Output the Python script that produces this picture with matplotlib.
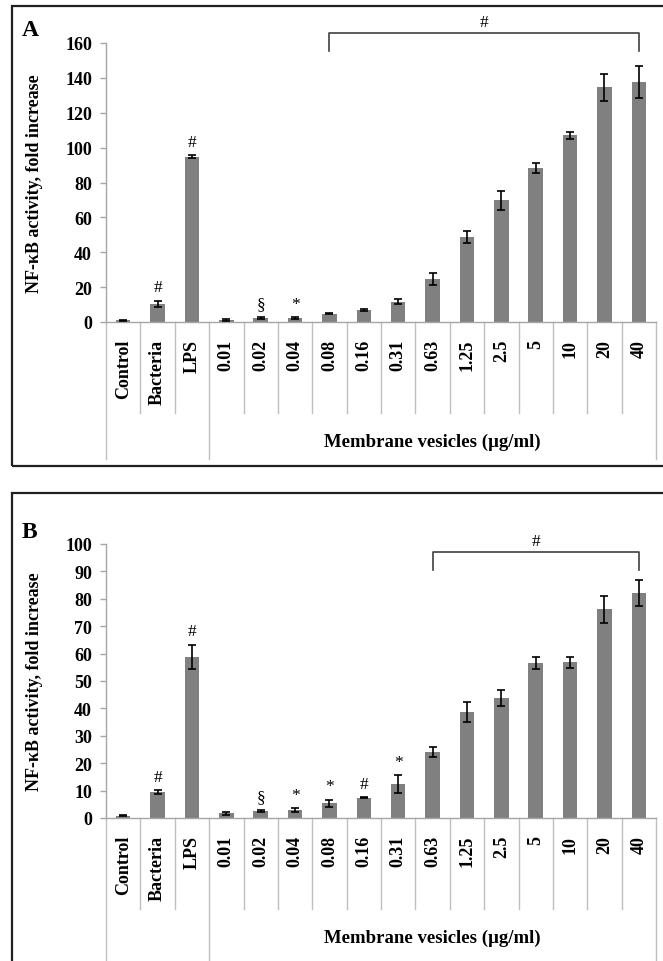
import numpy as np
import matplotlib
matplotlib.use('Agg')
import matplotlib.pyplot as plt
from matplotlib.patches import Rectangle

plt.rcParams['font.family'] = ['Liberation Serif', 'DejaVu Serif']

# data
categories = ['Control', 'Bacteria', 'LPS', '0.01', '0.02', '0.04', '0.08', '0.16',
              '0.31', '0.63', '1.25', '2.5', '5', '10', '20', '40']
group_label = 'Membrane vesicles (\u00b5g/ml)'
group_start = 3  # first vesicle dose

a_mean = [1.0, 10.5, 94.7, 1.1, 2.1, 2.2, 4.8, 7.0, 11.6, 24.8, 48.6, 69.7, 88.2, 107.0, 134.5, 137.6]
a_err = [0.3, 1.8, 0.8, 0.5, 0.5, 0.4, 0.4, 0.6, 1.5, 3.5, 3.4, 5.3, 2.8, 1.9, 7.7, 9.2]
a_marks = ['', '#', '#', '', '\u00a7', '*', '', '', '', '', '', '', '', '', '', '']
a_bracket = (6, 15, 155.3, 165.7)  # from bar, to bar, leg bottom, top

b_mean = [0.8, 9.5, 58.7, 1.7, 2.5, 2.9, 5.3, 7.4, 12.4, 24.2, 38.6, 43.8, 56.6, 56.9, 76.2, 82.1]
b_err = [0.2, 0.6, 4.5, 0.6, 0.3, 0.6, 1.4, 0.2, 3.2, 1.8, 3.7, 3.0, 2.2, 2.0, 4.9, 4.7]
b_marks = ['', '#', '#', '', '\u00a7', '*', '*', '#', '*', '', '', '', '', '', '', '']
b_bracket = (9, 15, 90.5, 97.1)

W, H = 663, 962
fig = plt.figure(figsize=(W / 100, H / 100), dpi=100)

grey = '#808080'
axis_grey = '#a6a6a6'
sep_grey = '#bfbfbf'


def panel(rect, letter, mean, err, marks, bracket, ymax, ystep, short_sep, long_sep, group_y):
    left, top, right, bottom = rect
    ax = fig.add_axes([left / W, 1 - bottom / H, (right - left) / W, (bottom - top) / H])
    x = np.arange(len(categories))
    ax.bar(x, mean, width=0.42, color=grey, zorder=2)
    ax.errorbar(x, mean, yerr=err, fmt='none', ecolor='black', elinewidth=1.2,
                capsize=3, capthick=1.2, zorder=3)
    ax.set_xlim(-0.5, len(categories) - 0.5)
    ax.set_ylim(0, ymax)
    ax.set_yticks(np.arange(0, ymax + 1, ystep))
    ax.set_xticks(x)
    ax.set_xticklabels(categories, rotation=90, fontsize=13, fontweight='bold')
    ax.tick_params(axis='x', length=0, pad=12)
    ax.tick_params(axis='y', length=4, width=1, color=axis_grey, labelsize=13, pad=6)
    for lab in ax.get_yticklabels():
        lab.set_fontweight('bold')
    for s in ['top', 'right']:
        ax.spines[s].set_visible(False)
    for s in ['left', 'bottom']:
        ax.spines[s].set_color(axis_grey)
        ax.spines[s].set_linewidth(1)
    ax.set_ylabel('NF-\u03baB activity, fold increase', fontsize=13, fontweight='bold')
    ax.yaxis.set_label_coords(-(left - 43) / (right - left), 0.5)

    # category separators (two-level axis)
    trans = ax.get_xaxis_transform()
    for b in np.arange(len(categories) + 1) - 0.5:
        long_line = b in (-0.5, group_start - 0.5, len(categories) - 0.5)
        y1 = long_sep if long_line else short_sep
        ax.plot([b, b], [0, y1], transform=trans, color=sep_grey, lw=1, clip_on=False)
    ax.text((group_start - 0.5 + len(categories) - 0.5) / 2, group_y, group_label,
            transform=trans, ha='center', va='center', fontsize=13.5, fontweight='bold')

    # significance marks
    for i, m in enumerate(marks):
        if m:
            ax.annotate(m, xy=(i, mean[i] + err[i]), xytext=(0, 4), textcoords='offset points',
                        ha='center', va='bottom', fontsize=12.5, annotation_clip=False)
    i0, i1, ylo, yhi = bracket
    ax.plot([i0, i0, i1, i1], [ylo, yhi, yhi, ylo], color='#404040', lw=1.2, clip_on=False)
    ax.annotate('#', xy=((i0 + i1) / 2, yhi), xytext=(0, 2), textcoords='offset points',
                ha='center', va='bottom', fontsize=12.5, annotation_clip=False)

    fig.text(22 / W, 1 - (top - 13) / H, letter, fontsize=17, fontweight='bold', va='center')
    return ax


panel((106, 44, 656, 323), 'A', a_mean, a_err, a_marks, a_bracket, 160, 20,
      (323 - 414) / 279, (323 - 460) / 279, (323 - 442) / 279)
panel((106, 545, 656, 819), 'B', b_mean, b_err, b_marks, b_bracket, 100, 10,
      (819 - 910) / 274, (819 - 975) / 274, (819 - 938) / 274)

# panel frames
fig.add_artist(Rectangle((12 / W, 1 - 467 / H), (680 - 12) / W, (467 - 7) / H,
                         transform=fig.transFigure, fill=False, ec='#202020', lw=1.6))
fig.add_artist(Rectangle((12 / W, 1 - 990 / H), (680 - 12) / W, (990 - 494) / H,
                         transform=fig.transFigure, fill=False, ec='#202020', lw=1.6))

fig.savefig('out.png', dpi=100)
